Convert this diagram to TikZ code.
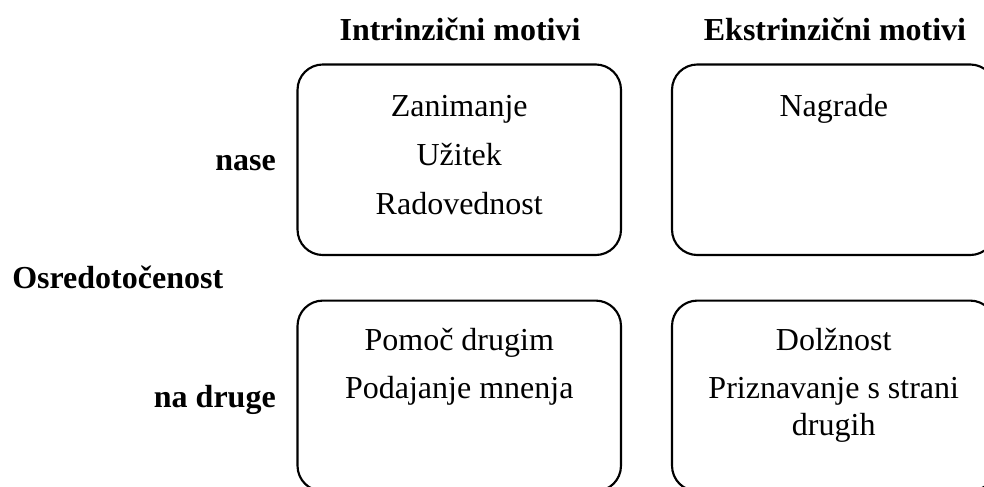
\documentclass[tikz,border=0pt]{standalone}
\usepackage{fontspec}
\setmainfont{Liberation Serif}
\begin{document}
\begin{tikzpicture}[x=0.75pt,y=-0.75pt,
  cell/.style={draw=black,line width=1.6pt,rounded corners=19pt,inner sep=0pt,
    minimum width=242.6pt,minimum height=142.9pt},
  item/.style={anchor=base,inner sep=0pt,font=\fontsize{24}{27.6}\selectfont},
  head/.style={anchor=base,inner sep=0pt,font=\fontsize{24}{27.6}\selectfont\bfseries},
  side/.style={anchor=base east,inner sep=0pt,font=\fontsize{24}{27.6}\selectfont\bfseries}]
\clip (0,0) rectangle (984,486);

% quadrant frames
\node[cell] (q1) at (459.25,159.75) {};
\node[cell] (q2) at (833.75,159.75) {};
\node[cell] (q3) at (459.25,395.85) {};
\node[cell] (q4) at (833.75,395.85) {};

% column headings
\node[head] (hi) at (460,40) {Intrinzični motivi};
\node[head] (he) at (835,40) {Ekstrinzični motivi};

% row headings
\node[side] (rs) at (276,170) {nase};
\node[head,anchor=base west] (ro) at (12,288) {Osredotočenost};
\node[side] (rd) at (276,407) {na druge};

% intrinsic, self
\node[item] (a1) at (459.25,116) {Zanimanje};
\node[item] (a2) at (459.25,165) {Užitek};
\node[item] (a3) at (459.25,214) {Radovednost};

% extrinsic, self
\node[item] (b1) at (833.75,116) {Nagrade};

% intrinsic, others
\node[item] (d1) at (459.25,350) {Pomoč drugim};
\node[item] (d2) at (459.25,398) {Podajanje mnenja};

% extrinsic, others
\node[item] (e1) at (833.75,350) {Dolžnost};
\node[item] (e2) at (833.75,398) {Priznavanje s strani};
\node[item] (e3) at (833.75,435) {drugih};
\end{tikzpicture}
\end{document}
